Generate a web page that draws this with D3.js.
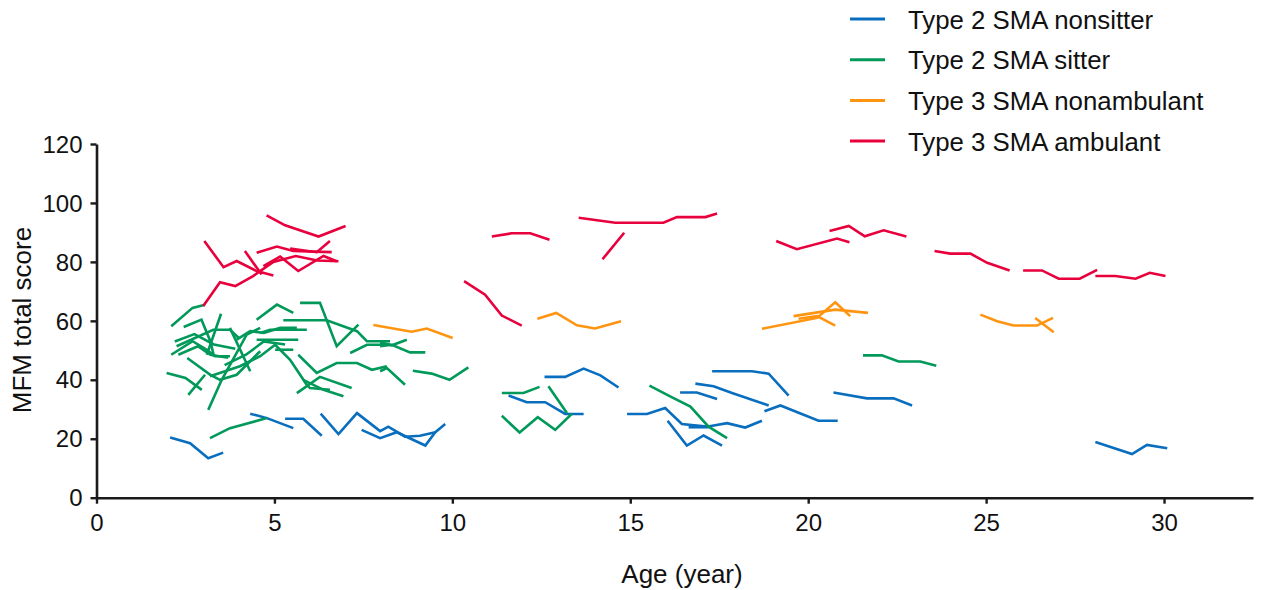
<!DOCTYPE html>
<html>
<head>
<meta charset="utf-8">
<script src="https://cdn.jsdelivr.net/npm/d3@7"></script>
<style>
  html, body { margin: 0; padding: 0; background: #fff; }
  svg { display: block; font-family: "Liberation Sans", Arial, sans-serif; }
</style>
</head>
<body>
<svg id="chart" width="1267" height="590"></svg>
<script>
// ---- data: each trajectory is a list of [age (year), MFM total score] ----
const categories = ["Type 2 SMA nonsitter", "Type 2 SMA sitter", "Type 3 SMA nonambulant", "Type 3 SMA ambulant"];

const nonsitterLines = [
  [[2.07,20.4],[2.63,18.5],[3.14,13.4],[3.56,15.3]],
  [[4.32,28.5],[4.79,27.0],[5.53,23.6]],
  [[5.3,26.8],[5.81,26.8],[6.33,21.0]],
  [[6.3,28.5],[6.8,21.6],[7.32,28.7],[7.97,22.6],[8.2,24.1],[8.67,20.7],[9.09,21.0],[9.52,22.2],[9.8,25.0]],
  [[7.45,23.0],[7.97,20.2],[8.44,22.2],[9.24,17.7],[9.52,22.2]],
  [[11.58,34.7],[12.09,32.4],[12.61,32.4],[13.17,28.4],[13.69,28.4]],
  [[12.59,41.0],[13.17,41.0],[13.69,43.8],[14.16,41.5],[14.67,37.4]],
  [[14.91,28.4],[15.47,28.4],[15.98,30.4],[16.45,25.0],[17.15,24.1],[17.72,25.3],[18.23,23.8],[18.7,26.1]],
  [[16.05,26.1],[16.59,17.7],[17.06,21.1],[17.58,17.7]],
  [[16.64,23.9],[17.2,23.9]],
  [[16.4,35.7],[16.87,35.7],[17.44,33.5]],
  [[16.83,38.7],[17.34,37.8],[17.86,35.5],[18.89,31.3]],
  [[17.3,42.9],[18.42,42.9],[18.89,42.1],[19.45,34.6]],
  [[18.77,29.3],[19.22,31.3],[20.29,26.1],[20.83,26.1]],
  [[20.71,35.7],[21.65,33.7],[22.4,33.7],[22.92,31.3]],
  [[28.07,18.9],[29.1,14.8],[29.52,17.9],[30.09,16.8]]
];

const sitterLines = [
  [[2.1,58.2],[2.7,64.4],[3.05,65.5]],
  [[2.45,57.9],[2.95,60.4],[3.2,53.1],[3.3,48.0]],
  [[3.1,48.5],[3.5,62.4]],
  [[2.25,51.4],[3.28,57.0],[3.75,57.0],[4.0,54.2]],
  [[2.1,48.5],[2.7,53.1],[3.1,50.2],[3.33,48.0],[3.75,48.0]],
  [[2.3,48.5],[2.85,51.4],[3.2,48.5],[3.7,47.5]],
  [[2.2,53.0],[2.75,55.5],[3.3,52.0],[3.9,50.5]],
  [[2.55,47.4],[3.2,41.7],[3.47,40.0],[3.94,41.7],[4.6,49.7]],
  [[1.97,42.3],[2.5,40.6],[2.96,36.6]],
  [[2.58,34.9],[3.05,41.7]],
  [[3.14,29.8],[3.52,40.0],[4.22,55.3],[4.6,57.6]],
  [[3.94,53.6],[4.32,56.5],[4.7,55.9],[5.16,57.6],[5.63,57.6]],
  [[3.75,57.6],[4.32,42.9]],
  [[3.6,45.0],[4.2,48.5],[4.7,53.0],[5.3,52.0]],
  [[3.19,41.2],[4.03,44.6],[4.6,48.0],[5.02,51.9],[5.44,46.8],[5.91,38.3],[6.0,37.2],[6.56,36.6]],
  [[4.5,60.4],[5.07,65.5],[5.53,62.7]],
  [[5.72,66.1],[6.28,66.1],[6.75,51.4],[7.36,58.7]],
  [[5.25,60.2],[6.47,60.2],[7.32,56.5],[7.6,53.1],[8.25,53.1]],
  [[7.13,49.1],[7.6,51.9],[8.25,51.9]],
  [[4.6,55.9],[4.88,57.0],[5.91,57.0]],
  [[4.5,53.6],[5.67,53.6]],
  [[5.02,50.2],[5.53,50.2]],
  [[5.67,48.5],[6.19,42.3],[6.75,45.7],[7.32,45.7],[7.74,43.4],[8.16,44.6]],
  [[5.63,35.5],[6.28,41.0],[7.17,37.2]],
  [[5.81,40.0],[6.38,36.6],[6.94,34.4]],
  [[3.19,20.2],[3.75,23.6],[4.79,27.0]],
  [[7.97,52.7],[8.3,51.7],[8.72,53.6]],
  [[7.97,51.4],[8.3,51.9],[8.81,49.3],[9.24,49.3]],
  [[7.97,42.9],[8.16,44.0],[8.67,38.3]],
  [[8.89,43.1],[9.42,42.1],[9.92,40.0],[10.45,44.2]],
  [[11.39,35.5],[12.0,35.5],[12.45,37.6]],
  [[12.7,37.8],[13.22,28.7]],
  [[11.39,27.8],[11.89,22.1],[12.4,27.3],[12.89,23.0],[13.36,28.5]],
  [[15.54,38.0],[16.12,34.4],[16.69,30.9],[17.2,24.1],[17.72,20.2]],
  [[21.54,48.3],[22.07,48.3],[22.54,46.2],[23.15,46.2],[23.6,44.8]]
];

const nonambulantLines = [
  [[7.78,58.6],[8.86,56.3],[9.28,57.4],[10.01,54.2]],
  [[12.39,60.7],[12.92,62.7],[13.5,58.5],[14.01,57.4],[14.74,59.9]],
  [[18.7,57.3],[20.25,61.0],[20.76,66.3],[21.18,61.6]],
  [[19.59,61.6],[20.76,63.8],[21.68,62.7]],
  [[19.73,60.7],[20.25,61.6],[20.76,58.4]],
  [[24.84,62.1],[25.31,59.9],[25.77,58.4],[26.43,58.4],[26.88,61.0]],
  [[26.38,61.0],[26.9,56.1]]
];

const ambulantLines = [
  [[4.78,95.8],[5.3,92.4],[6.24,88.6],[7.0,92.2]],
  [[3.03,87.1],[3.57,78.2],[3.94,80.3],[4.5,76.9],[4.97,75.4]],
  [[4.17,83.7],[4.64,75.7]],
  [[4.5,83.1],[5.07,85.2],[5.53,83.7],[6.61,83.3]],
  [[5.44,84.5],[6.19,83.3],[6.56,87.1]],
  [[3.0,65.0],[3.47,73.1],[3.9,71.8],[4.4,75.2],[4.97,80.0],[5.6,82.0],[6.2,80.5],[6.8,80.2]],
  [[4.69,78.6],[5.16,81.8],[5.67,76.9],[6.38,82.0],[6.75,80.2]],
  [[10.33,73.5],[10.92,68.9],[11.39,61.8],[11.95,58.4]],
  [[11.11,88.6],[11.67,89.7],[12.19,89.7],[12.73,87.5]],
  [[13.55,95.0],[14.58,93.3],[15.93,93.3],[16.31,95.2],[17.11,95.2],[17.44,96.4]],
  [[14.22,80.9],[14.83,89.9]],
  [[19.1,87.1],[19.68,84.3],[20.81,87.9],[21.16,86.7]],
  [[20.6,90.5],[21.14,92.2],[21.59,88.7],[22.12,90.7],[22.76,88.6]],
  [[23.55,83.7],[23.99,82.8],[24.56,82.8],[25.03,79.7],[25.66,77.1]],
  [[26.04,77.1],[26.57,77.1],[27.04,74.3],[27.63,74.3],[28.12,77.3]],
  [[28.07,75.2],[28.63,75.2],[29.2,74.3],[29.6,76.3],[30.04,75.2]]
];

const xTicks = [0, 5, 10, 15, 20, 25, 30];
const yTicks = [0, 20, 40, 60, 80, 100, 120];
const xTitle = "Age (year)";
const yTitle = "MFM total score";

// ---- drawing ----
const colors = ["#0A6EBF", "#00995A", "#FF9410", "#E8003D"];
const groups = [nonsitterLines, sitterLines, nonambulantLines, ambulantLines];

const svg = d3.select("#chart");
const x = d3.scaleLinear().domain([0, 32.5]).range([96.5, 1253]);
const y = d3.scaleLinear().domain([0, 120]).range([497.7, 144]);

const line = d3.line().x(d => x(d[0])).y(d => y(d[1]));

groups.forEach((g, i) => {
  svg.append("g")
    .selectAll("path")
    .data(g)
    .join("path")
    .attr("d", line)
    .attr("fill", "none")
    .attr("stroke", colors[i])
    .attr("stroke-width", 2.6)
    .attr("stroke-linejoin", "miter")
    .attr("stroke-linecap", "butt");
});

const axisColor = "#1a1a1a";
const xAxis = svg.append("g")
  .attr("transform", `translate(0,${y(0)})`)
  .call(d3.axisBottom(x).tickValues(xTicks).tickSize(6).tickSizeOuter(0).tickPadding(10));
const yAxis = svg.append("g")
  .attr("transform", `translate(${x(0)},0)`)
  .call(d3.axisLeft(y).tickValues(yTicks).tickSize(6).tickSizeOuter(0).tickPadding(8));

[xAxis, yAxis].forEach(a => {
  a.selectAll(".domain").attr("stroke", axisColor).attr("stroke-width", 2.6);
  a.selectAll(".tick line").attr("stroke", axisColor).attr("stroke-width", 2.4);
  a.selectAll(".tick text")
    .attr("fill", "#111")
    .style("font-size", "24px")
    .style("font-family", "'Liberation Sans', Arial, sans-serif");
});
yAxis.selectAll(".tick text").attr("dy", "0.34em");

svg.append("text")
  .attr("x", 682).attr("y", 583)
  .attr("text-anchor", "middle")
  .style("font-size", "26px")
  .attr("fill", "#111")
  .text(xTitle);

svg.append("text")
  .attr("transform", "rotate(-90)")
  .attr("x", -320).attr("y", 31)
  .attr("text-anchor", "middle")
  .style("font-size", "26px")
  .attr("fill", "#111")
  .text(yTitle);

// legend
const legend = svg.append("g");
categories.forEach((c, i) => {
  const ly = 19 + i * 40.7;
  legend.append("line")
    .attr("x1", 850).attr("x2", 885)
    .attr("y1", ly).attr("y2", ly)
    .attr("stroke", colors[i]).attr("stroke-width", 3);
  legend.append("text")
    .attr("x", 908).attr("y", ly + 9.5)
    .style("font-size", "25.8px")
    .attr("fill", "#111")
    .text(c);
});
</script>
</body>
</html>
